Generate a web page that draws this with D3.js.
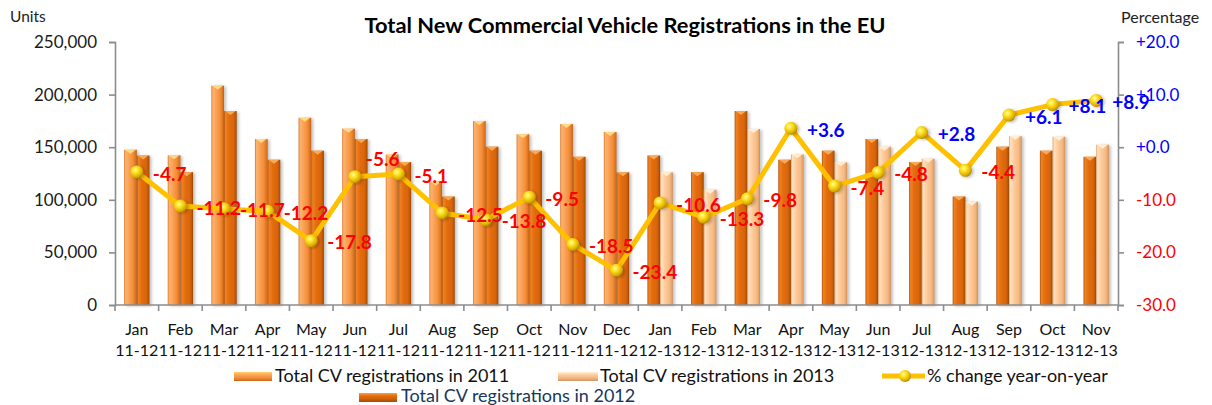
<!DOCTYPE html>
<html>
<head>
<meta charset="utf-8">
<script src="https://cdn.jsdelivr.net/npm/d3@7"></script>
<style>
  body { margin: 0; background: #fff; }
  svg { display: block; font-family: Lato, "Open Sans", sans-serif; }
</style>
</head>
<body>
<svg id="chart" width="1212" height="405"></svg>
<script>
// ---------------- data ----------------
const months  = ["Jan","Feb","Mar","Apr","May","Jun","Jul","Aug","Sep","Oct","Nov","Dec",
                 "Jan","Feb","Mar","Apr","May","Jun","Jul","Aug","Sep","Oct","Nov"];
const periods = ["11-12","11-12","11-12","11-12","11-12","11-12","11-12","11-12","11-12","11-12","11-12","11-12",
                 "12-13","12-13","12-13","12-13","12-13","12-13","12-13","12-13","12-13","12-13","12-13"];
const reg2011 = [147600,142300,208500,157800,178000,167600,143100,117400,174900,162300,172100,164500];
const reg2012 = [142100,126300,184400,138100,146700,157800,135900,103100,150500,146700,140900,126100];
const reg2013 = [126100,109600,167300,143200,135600,150500,139100,98200,160600,160000,152400];
const pctChange = [-4.7,-11.2,-11.7,-12.2,-17.8,-5.6,-5.1,-12.5,-13.8,-9.5,-18.5,-23.4,
                   -10.6,-13.3,-9.8,3.6,-7.4,-4.8,2.8,-4.4,6.1,8.1,8.9];
const leftTicks  = [0,50000,100000,150000,200000,250000];
const rightTicks = [-30,-20,-10,0,10,20];
const seriesNames = ["Total CV registrations in 2011","Total CV registrations in 2012",
                     "Total CV registrations in 2013","% change year-on-year"];

// ---------------- layout ----------------
const svg = d3.select("#chart");
const L = 115, R = 1118, T = 42, B = 305;
const cats = months.map((m,i)=>i);
const x = d3.scaleBand().domain(cats).range([L,R]).padding(0);
const xs = d3.scaleBand().domain([0,1]).range([0,x.bandwidth()]).paddingInner(0).paddingOuter(0.72);
const yL = d3.scaleLinear().domain([0,250000]).range([B,T]);
const yR = d3.scaleLinear().domain([-30,20]).range([B,T]);
const f1 = d3.format(".1f");
const fmtPct = d => (d>=0 ? "+" : "-") + f1(Math.abs(d));

// ---------------- defs ----------------
const defs = svg.append("defs");
function cyl(id, stops){
  const g = defs.append("linearGradient").attr("id",id).attr("x1","0").attr("x2","1").attr("y1","0").attr("y2","0");
  stops.forEach(s=>g.append("stop").attr("offset",s[0]).attr("stop-color",s[1]));
}
cyl("g2011",[[0,"#D8752C"],[0.12,"#FDB36C"],[0.35,"#FBA45A"],[0.7,"#F48D38"],[0.92,"#D9721F"],[1,"#B05A18"]]);
cyl("g2012",[[0,"#B0520A"],[0.12,"#EE8226"],[0.4,"#E46C0A"],[0.75,"#D86508"],[0.92,"#B85606"],[1,"#8E4406"]]);
cyl("g2013",[[0,"#DDA06A"],[0.12,"#FFE1C0"],[0.4,"#FDCB9C"],[0.75,"#F6B982"],[0.92,"#E2A26A"],[1,"#C48650"]]);
const capCol = {g2011:"#FFE08A", g2012:"#F8B060", g2013:"#FFF2D8"};
const rg = defs.append("radialGradient").attr("id","ball").attr("cx","0.38").attr("cy","0.35").attr("r","0.7");
rg.append("stop").attr("offset",0).attr("stop-color","#FFFFA0");
rg.append("stop").attr("offset",0.35).attr("stop-color","#FFE020");
rg.append("stop").attr("offset",0.8).attr("stop-color","#D8A800");
rg.append("stop").attr("offset",1).attr("stop-color","#A07800");
const sh = defs.append("filter").attr("id","shadow").attr("x","-50%").attr("y","-20%").attr("width","200%").attr("height","140%");
sh.append("feDropShadow").attr("dx",2).attr("dy",1).attr("stdDeviation",1.5).attr("flood-color","#000").attr("flood-opacity",0.25);

// ---------------- bars ----------------
const barData = [];
cats.forEach(i=>{
  if (i < 12) {
    barData.push({i, s:0, v:reg2011[i], g:"g2011"});
    barData.push({i, s:1, v:reg2012[i], g:"g2012"});
  } else {
    barData.push({i, s:0, v:reg2012[i-12], g:"g2012"});
    barData.push({i, s:1, v:reg2013[i-12], g:"g2013"});
  }
});
const bars = svg.append("g").selectAll("g").data(barData).join("g").attr("filter","url(#shadow)");
bars.append("rect")
  .attr("x", d=>x(d.i)+xs(d.s)).attr("width", xs.bandwidth())
  .attr("y", d=>yL(d.v)).attr("height", d=>B-yL(d.v))
  .attr("fill", d=>`url(#${d.g})`);
bars.append("path")
  .attr("d", d=>{
    const x0 = x(d.i)+xs(d.s), w = xs.bandwidth(), y0 = yL(d.v);
    return `M${x0+1},${y0} L${x0+w-1},${y0} L${x0+w/2},${y0+4} Z`;
  })
  .attr("fill", d=>capCol[d.g]).attr("opacity",0.9);

// ---------------- axes ----------------
const axCol = "#8C8C8C";
const gL = svg.append("g").attr("transform",`translate(${L},0)`)
  .call(d3.axisLeft(yL).tickValues(leftTicks).tickSize(6).tickPadding(12).tickFormat(d3.format(",")));
gL.selectAll("text").attr("font-size",17).attr("fill","#1a1a1a").attr("font-family","Lato");
const gR = svg.append("g").attr("transform",`translate(${R},0)`)
  .call(d3.axisRight(yR).tickValues(rightTicks).tickSize(6).tickPadding(12).tickFormat(fmtPct));
gR.selectAll("text").attr("font-size",17).attr("font-family","Lato")
  .attr("fill", d=> d>=0 ? "#0000FF" : "#FF0000");
const gX = svg.append("g").attr("transform",`translate(0,${B})`);
gX.append("line").attr("x1",L).attr("x2",R).attr("y1",0).attr("y2",0);
gX.selectAll("line.t").data(d3.range(cats.length+1)).join("line").attr("class","t")
  .attr("x1",k=>L+k*x.step()).attr("x2",k=>L+k*x.step()).attr("y1",0).attr("y2",6);
[gL,gR,gX].forEach(g=>{
  g.selectAll("path.domain, line").attr("stroke",axCol).attr("stroke-width",1.6);
});
const xl = svg.append("g").selectAll("text").data(cats).join("text")
  .attr("text-anchor","middle").attr("font-size",16).attr("fill","#111");
xl.append("tspan").attr("x",d=>x(d)+x.bandwidth()/2).attr("y",335).text(d=>months[d]);
xl.append("tspan").attr("x",d=>x(d)+x.bandwidth()/2).attr("y",355.5).text(d=>periods[d]);

// ---------------- line ----------------
const cx = i => x(i)+x.bandwidth()/2;
svg.append("path").datum(pctChange)
  .attr("d", d3.line().x((d,i)=>cx(i)).y(d=>yR(d)))
  .attr("fill","none").attr("stroke","#FFC000").attr("stroke-width",5).attr("stroke-linejoin","round");
svg.append("g").selectAll("circle").data(pctChange).join("circle")
  .attr("cx",(d,i)=>cx(i)).attr("cy",d=>yR(d)).attr("r",6.5)
  .attr("fill","url(#ball)").attr("filter","url(#shadow)");
svg.append("g").selectAll("text").data(pctChange).join("text")
  .attr("x",(d,i)=>cx(i) + (i===5 ? 11 : 16))
  .attr("y",(d,i)=>yR(d) + (i===5 ? -17 : 2))
  .attr("dy","0.35em")
  .attr("font-size",19).attr("font-weight","bold")
  .attr("fill",d=> d>=0 ? "#0000FF" : "#FF0000")
  .text(fmtPct);

// ---------------- titles ----------------
svg.append("text").attr("x",625).attr("y",33).attr("text-anchor","middle")
  .attr("font-size",21).attr("font-weight","bold").attr("fill","#000")
  .attr("textLength",521).attr("lengthAdjust","spacingAndGlyphs")
  .text("Total New Commercial Vehicle Registrations in the EU");
svg.append("text").attr("x",10).attr("y",22).attr("font-size",15.5).attr("fill","#222").text("Units");
svg.append("text").attr("x",1121).attr("y",23).attr("font-size",16).attr("fill","#222").text("Percentage");

// ---------------- legend ----------------
const lg = svg.append("g");
function swatch(x0,y0,w,h,g){
  lg.append("rect").attr("x",x0).attr("y",y0).attr("width",w).attr("height",h).attr("fill",`url(#${g}v)`);
}
function vgrad(id, c){
  const g = defs.append("linearGradient").attr("id",id).attr("x1","0").attr("x2","0").attr("y1","0").attr("y2","1");
  c.forEach((s,k)=>g.append("stop").attr("offset",k/(c.length-1)).attr("stop-color",s));
}
vgrad("g2011v",["#FFD070","#FBA450","#F48D38","#C8661C"]);
vgrad("g2012v",["#F6A050","#E46C0A","#D06008","#A04C06"]);
vgrad("g2013v",["#FFF0D8","#FDCB9C","#F4B680","#D09A68"]);
swatch(234,372,38,9,"g2011");
lg.append("text").attr("x",275).attr("y",382).attr("font-size",18).attr("fill","#111").text(seriesNames[0]);
swatch(558,372,40,9,"g2013");
lg.append("text").attr("x",600).attr("y",382).attr("font-size",18).attr("fill","#111").text(seriesNames[2]);
lg.append("line").attr("x1",882).attr("x2",925).attr("y1",376).attr("y2",376)
  .attr("stroke","#FFC000").attr("stroke-width",5);
lg.append("circle").attr("cx",905).attr("cy",376).attr("r",6).attr("fill","url(#ball)");
lg.append("text").attr("x",927).attr("y",382).attr("font-size",18).attr("fill","#111").text(seriesNames[3]);
swatch(359,393,38,9,"g2012");
lg.append("text").attr("x",401).attr("y",401.5).attr("font-size",18).attr("fill","#17375E").text(seriesNames[1]);
</script>
</body>
</html>
